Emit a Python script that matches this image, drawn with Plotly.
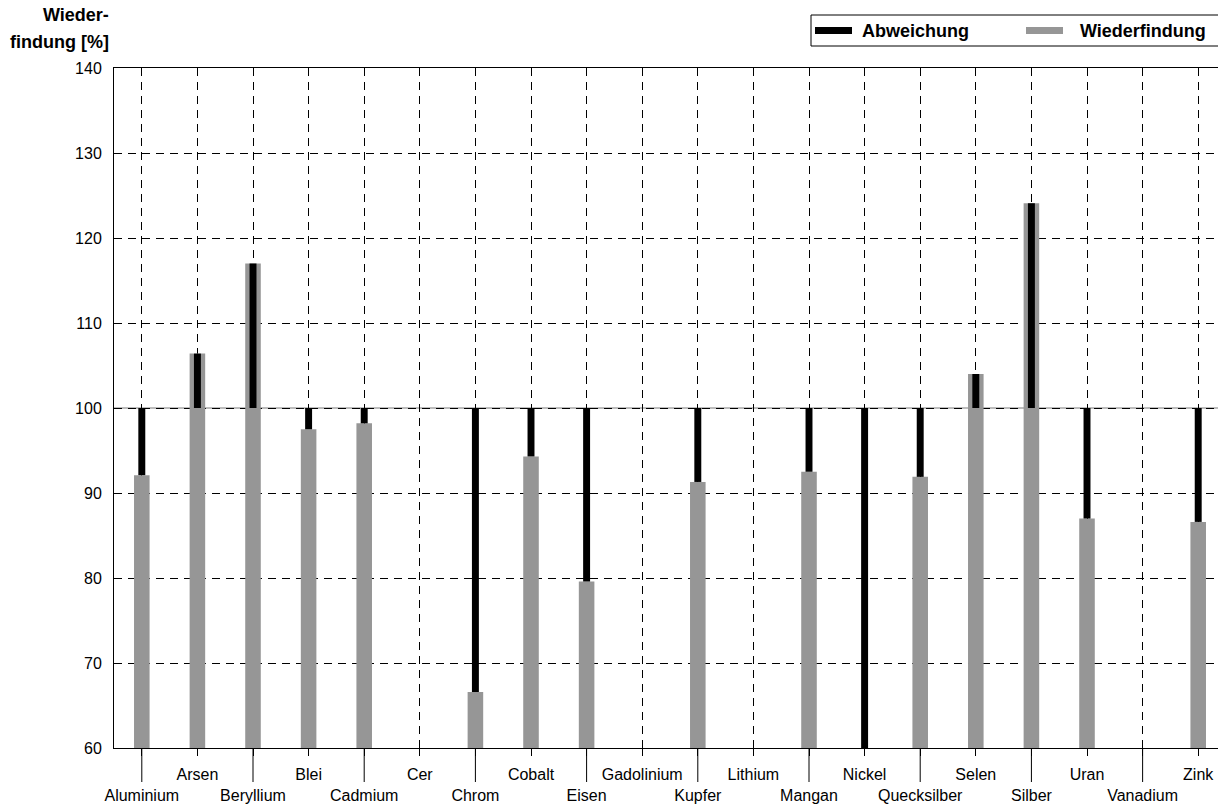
import plotly.graph_objects as go

# Elements and measured recovery rates (Wiederfindung, %); None = no result
elements = ["Aluminium", "Arsen", "Beryllium", "Blei", "Cadmium", "Cer", "Chrom",
            "Cobalt", "Eisen", "Gadolinium", "Kupfer", "Lithium", "Mangan", "Nickel",
            "Quecksilber", "Selen", "Silber", "Uran", "Vanadium", "Zink"]
wiederfindung = [92.1, 106.4, 117.0, 97.5, 98.2, None, 66.6,
                 94.3, 79.6, None, 91.3, None, 92.5, 45.0,
                 91.9, 104.0, 124.1, 87.0, None, 86.6]
y_ticks = [60, 70, 80, 90, 100, 110, 120, 130, 140]

# Deviation from the 100 % target
abweichung = [None if v is None else v - 100 for v in wiederfindung]

FONT = "Liberation Sans, Arial, Helvetica, sans-serif"
GRAY = "#969696"
DASH = "8px,6px"

fig = go.Figure()
fig.add_trace(go.Bar(
    x=elements, y=wiederfindung, name="Wiederfindung",
    marker=dict(color=GRAY, line=dict(width=0)), width=0.28,
    showlegend=False,
))
fig.add_trace(go.Bar(
    x=elements, y=abweichung, base=100, name="Abweichung",
    marker=dict(color="#000000", line=dict(width=0)), width=0.125,
    showlegend=False,
))

# Alternate label rows: even positions go on the second line
ticktext = [("<br>" + e) if i % 2 == 0 else e for i, e in enumerate(elements)]

fig.update_layout(
    width=1218, height=809, autosize=False,
    margin=dict(l=114, r=0, t=68, b=61),
    paper_bgcolor="white", plot_bgcolor="white",
    barmode="overlay",
    font=dict(family=FONT, color="#000000"),
    xaxis=dict(
        type="category", categoryorder="array", categoryarray=elements,
        range=[-0.5, 19.356], automargin=False,
        tickmode="array", tickvals=elements, ticktext=ticktext, tickangle=0,
        tickfont=dict(size=16, family=FONT),
        ticks="outside", ticklen=7, tickcolor="#000000", tickwidth=1,
        ticklabelstandoff=5,
        showline=True, linecolor="#000000", linewidth=1, mirror=True,
        showgrid=True, gridcolor="#000000", gridwidth=1, griddash=DASH,
        zeroline=False, fixedrange=True,
    ),
    yaxis=dict(
        range=[60, 140], tickvals=y_ticks, automargin=False,
        tickfont=dict(size=16, family=FONT),
        ticks="", ticklabelstandoff=8,
        showline=True, linecolor="#000000", linewidth=1,
        showgrid=True, gridcolor="#000000", gridwidth=1, griddash=DASH,
        zeroline=False, fixedrange=True,
    ),
)

shapes = [
    # solid reference line at 100 %
    dict(type="line", xref="paper", yref="y", x0=0, x1=1, y0=100, y1=100,
         line=dict(color="#7a7a7a", width=1), layer="below"),
]
# long ticks under the second-row labels
for i, e in enumerate(elements):
    if i % 2 == 0:
        shapes.append(dict(type="line", xref="x", yref="paper", x0=e, x1=e,
                           y0=0, y1=-34 / 680, line=dict(color="#000000", width=1)))

# legend box with swatches (pixel positions converted to paper coordinates)
PW, PH, L, T = 1104, 680, 114, 68
px = lambda x: (x - L) / PW
py = lambda y: 1 - (y - T) / PH
shapes += [
    dict(type="rect", xref="paper", yref="paper", x0=px(811), x1=px(1230),
         y0=py(46), y1=py(15), line=dict(color="#000000", width=1),
         fillcolor="white"),
    dict(type="rect", xref="paper", yref="paper", x0=px(815), x1=px(852),
         y0=py(34), y1=py(27), line=dict(width=0), fillcolor="#000000"),
    dict(type="rect", xref="paper", yref="paper", x0=px(1026), x1=px(1063),
         y0=py(34), y1=py(27), line=dict(width=0), fillcolor=GRAY),
]
fig.update_layout(shapes=shapes)

annotations = [
    dict(text="<b>Abweichung</b>", xref="paper", yref="paper", x=px(860), y=py(31),
         xanchor="left", yanchor="middle", showarrow=False,
         font=dict(size=18, family=FONT, color="#000000")),
    dict(text="<b>Wiederfindung</b>", xref="paper", yref="paper", x=px(1078), y=py(31),
         xanchor="left", yanchor="middle", showarrow=False,
         font=dict(size=18, family=FONT, color="#000000")),
    dict(text="<b>Wieder-</b>", xref="paper", yref="paper", x=px(111), y=py(15),
         xanchor="right", yanchor="middle", showarrow=False,
         font=dict(size=18, family=FONT, color="#000000")),
    dict(text="<b>findung [%]</b>", xref="paper", yref="paper", x=px(111), y=py(42),
         xanchor="right", yanchor="middle", showarrow=False,
         font=dict(size=18, family=FONT, color="#000000")),
]
fig.update_layout(annotations=annotations)

fig.write_html("out.html")
